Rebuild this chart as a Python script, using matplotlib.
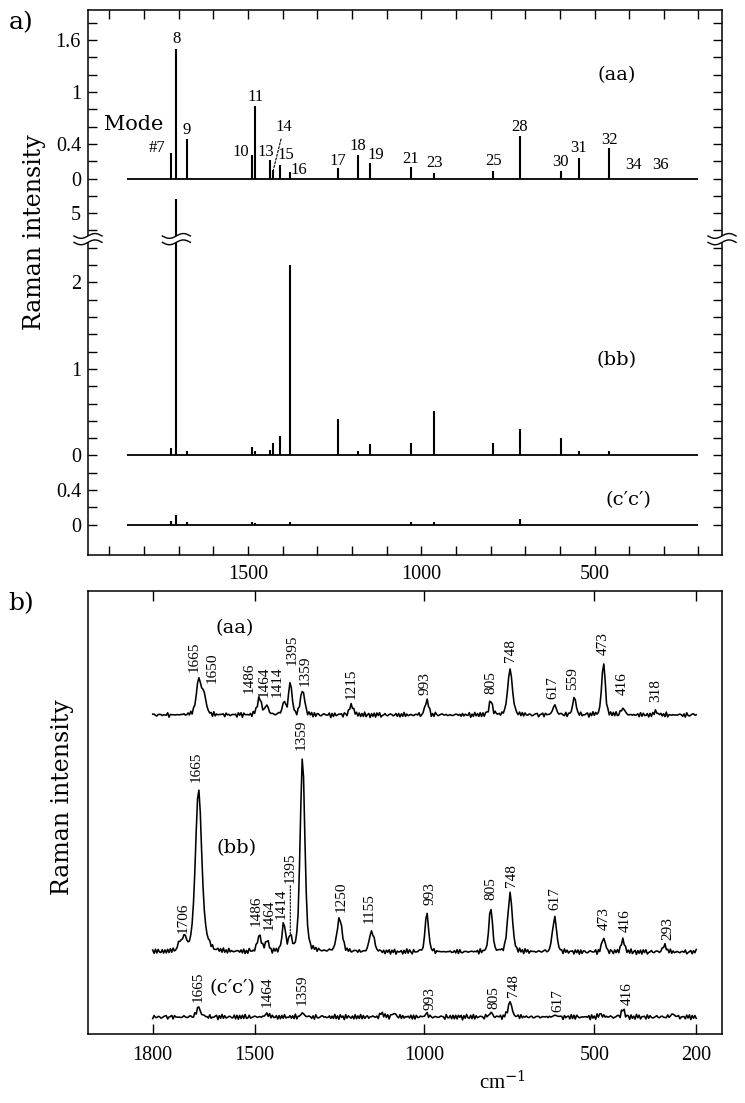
import numpy as np
import matplotlib
matplotlib.use("Agg")
import matplotlib.pyplot as plt
from matplotlib import transforms

plt.rcParams['font.family'] = ['Liberation Serif', 'DejaVu Serif']
plt.rcParams['mathtext.fontset'] = 'dejavuserif'

# ------------------------------------------------------------------
# Panel a: calculated Raman intensities of the normal modes
# ------------------------------------------------------------------
mode_numbers = [7, 8, 9, 10, 11, 13, 14, 15, 16, 17, 18, 19, 21, 23, 25, 28, 30, 31, 32, 34, 36]
mode_freqs = [1721, 1707, 1676, 1489, 1479, 1436, 1427, 1409, 1379, 1240, 1184, 1149,
              1030, 962, 792, 716, 598, 545, 458, 388, 310]
int_aa = [0.30, 1.50, 0.46, 0.27, 0.84, 0.21, 0.10, 0.16, 0.08, 0.12, 0.27, 0.18,
          0.13, 0.07, 0.09, 0.49, 0.09, 0.24, 0.35, 0.0, 0.0]
int_bb = [0.085, 5.16, 0.05, 0.10, 0.05, 0.06, 0.15, 0.23, 2.20, 0.42, 0.05, 0.13,
          0.15, 0.51, 0.14, 0.31, 0.20, 0.05, 0.05, 0.0, 0.0]
int_cc = [0.04, 0.115, 0.035, 0.035, 0.02, 0.0, 0.0, 0.0, 0.035, 0.0, 0.0, 0.0,
          0.035, 0.035, 0.0, 0.07, 0.0, 0.0, 0.0, 0.0, 0.0]
aa_tick_vals = [0, 0.4, 1, 1.6]
bb_tick_vals = [0, 1, 2, 5]
cc_tick_vals = [0, 0.4]
top_xticks = list(range(1900, 199, -100))
labeled_xticks_a = [1500, 1000, 500]

# ------------------------------------------------------------------
# Panel b: observed spectra (peak positions / heights / widths read off)
# ------------------------------------------------------------------
aa_pos = [1665, 1650, 1486, 1464, 1414, 1395, 1359, 1215, 993, 805, 748, 617, 559, 473, 416, 318]
aa_h = [34, 20, 16, 9, 12, 32, 25, 10, 15, 14, 46, 9, 17, 53, 7, 3]
aa_fwhm = [16, 16, 16, 12, 12, 12, 14, 14, 12, 12, 16, 14, 12, 12, 12, 14]

bb_pos = [1720, 1706, 1665, 1640, 1486, 1464, 1414, 1395, 1359, 1250, 1155, 993, 805, 748, 617, 473, 416, 293]
bb_h = [9, 14, 162, 6, 16, 11, 28, 14, 195, 33, 21, 39, 45, 58, 35, 14, 12, 7]
bb_fwhm = [12, 12, 22, 20, 14, 12, 12, 10, 16, 18, 16, 12, 12, 16, 14, 12, 12, 12]

cc_pos = [1665, 1464, 1359, 1125, 1090, 993, 805, 748, 617, 480, 416, 270]
cc_h = [10, 3, 4, 4, 4, 3, 4, 15, 2, 3, 7, 3]
cc_fwhm = [14, 14, 12, 12, 12, 12, 12, 14, 12, 12, 12, 12]

# fixed jitter tables (hand-typed) used for the noisy baseline of the traces
jitter_a = [0.8, -1.2, 1.5, -0.4, 1.0, -1.4, 0.3, 1.3, -0.9, 0.5, -1.5, 1.2, -0.3, 0.7,
            -1.0, 1.4, -0.6, 0.4, -1.3, 0.9, 0.0, -0.8, 1.5, -1.2, 0.5, -0.4, 1.2, -1.4,
            0.8, -0.5, 1.3, -1.0, 0.3, -0.6, 1.0, -1.3, 0.4]
jitter_b = [-0.6, 1.0, -0.3, 1.3, -1.2, 0.4, -0.8, 0.9, -1.3, 0.6, 0.1, -1.0, 1.2, -0.4,
            0.8, -1.4, 0.5, -0.1, 1.0, -0.9, 0.3, -1.2, 1.3, -0.5, 0.6, -0.8, 0.1, 0.9, -1.0]

aa_lab = ['1665', '1650', '1486', '1464', '1414', '1395', '1359', '1215', '993', '805',
          '748', '617', '559', '473', '416', '318']
aa_lab_y = [43, 32, 22, 18, 18, 50, 29, 16, 20, 21, 53, 16, 25, 60, 20, 13]
bb_lab = ['1706', '1665', '1486', '1464', '1414', '1395', '1359', '1250', '1155', '993',
          '805', '748', '617', '473', '416', '293']
bb_lab_y = [19, 170, 26, 22, 33, 69, 202, 40, 29, 47, 52, 65, 42, 22, 20, 12]
cc_lab = ['1665', '1464', '1359', '993', '805', '748', '617', '416']
cc_lab_y = [15, 10, 12, 7, 8, 20, 5, 12]
xticks_b = [1800, 1500, 1000, 500, 200]

# ------------------------------------------------------------------
W, H = 745, 1103
fig = plt.figure(figsize=(W / 100, H / 100), dpi=100)
WORD = 'DejaVu Serif'


def rect(l, t, r, b):
    return [l / W, 1 - b / H, (r - l) / W, (b - t) / H]


def ftext(x, y, s, **kw):
    kw.setdefault('ha', 'center')
    kw.setdefault('va', 'center')
    fig.text(x / W, 1 - y / H, s, **kw)


# ======================= panel a =======================
OFF_AA, OFF_BB, OFF_CC = 4.0, 0.8, 0.0
BREAK_V, BREAK_SHIFT = 2.5, 2.2


def bb_u(v):
    v = np.asarray(v, dtype=float)
    return OFF_BB + np.where(v > BREAK_V, v - BREAK_SHIFT, v)


axA = fig.add_axes(rect(88, 10, 722, 555))
axA.set_xlim(1962, 132)
axA.set_ylim(-0.35, 5.948)
for s in axA.spines.values():
    s.set_linewidth(1.1)

axA.hlines([OFF_AA, OFF_BB, OFF_CC], 1850, 200, color='k', lw=1.3)
f = np.array(mode_freqs, float)
for vals, base, mapper in [(int_aa, OFF_AA, None), (int_bb, OFF_BB, bb_u), (int_cc, OFF_CC, None)]:
    v = np.array(vals, float)
    m = v > 0
    tops = mapper(v[m]) if mapper else base + v[m]
    axA.vlines(f[m], base, tops, color='k', lw=1.5)

# x ticks
axA.set_xticks(top_xticks)
axA.set_xticklabels([str(t) if t in labeled_xticks_a else '' for t in top_xticks])
# y ticks
yt = np.round(np.arange(0, 5.81, 0.2), 2)
labmap = {}
for v in aa_tick_vals:
    labmap[round(OFF_AA + v, 2)] = f'{v:g}'
for v in bb_tick_vals:
    labmap[round(float(bb_u(v)), 2)] = f'{v:g}'
for v in cc_tick_vals:
    labmap[round(OFF_CC + v, 2)] = f'{v:g}'
axA.set_yticks(yt)
axA.set_yticklabels([labmap.get(round(t, 2), '') for t in yt])
axA.tick_params(axis='both', direction='in', top=True, right=True, length=6.5,
                width=1.0, labelsize=14.5, pad=5)
axA.tick_params(axis='x', pad=7)

# mode labels
mode_lab_dx = [-14, 0, 0, -10.7, 0, -4.7, 10.7, 6.7, 9.3, 0, 0, 6, 0, 0, 0, 0, 0, 0, 0, 0, 0]
mode_lab_dy = [4.7, 10, 9, 3.7, 9, 8, 43, 9.3, 2, 7.3, 9.7, 8.3, 8.7, 10, 9.3, 9, 8.3, 9.7, 8.3, 14, 14]
for n, fr, v, dx, dy in zip(mode_numbers, mode_freqs, int_aa, mode_lab_dx, mode_lab_dy):
    txt = '#7' if n == 7 else str(n)
    kw = {}
    if n == 14:
        kw['arrowprops'] = dict(arrowstyle='-', ls=(0, (2, 1.5)), lw=0.8, color='k',
                                shrinkA=1, shrinkB=0)
    axA.annotate(txt, xy=(fr, OFF_AA + v), xytext=(dx, dy), textcoords='offset pixels',
                 ha='center', va='center', fontsize=12, **kw)

ftext(134, 125, 'Mode', fontsize=15, family=WORD)
ftext(617, 75, '(aa)', fontsize=14, family=WORD)
ftext(617, 360, '(bb)', fontsize=14, family=WORD)
ftext(628, 500, '(c\u2032c\u2032)', fontsize=14, family=WORD)


def break_mark(ax, x, y, base_tr, half_w=14, gap=3.2, amp=2.4):
    t = np.linspace(-1, 1, 41)
    xs = t * half_w
    ys = amp * np.sin(np.pi * t)
    tr = transforms.IdentityTransform() + transforms.ScaledTranslation(x, y, base_tr)
    px = np.concatenate([xs, xs[::-1]])
    py = np.concatenate([ys + gap, (ys - gap)[::-1]])
    ax.fill(px, py, color='white', transform=tr, clip_on=False, zorder=5, lw=0)
    ax.plot(xs, ys + gap, color='k', lw=1.0, transform=tr, clip_on=False, zorder=6)
    ax.plot(xs, ys - gap, color='k', lw=1.0, transform=tr, clip_on=False, zorder=6)


u_break = OFF_BB + BREAK_V
blend = transforms.blended_transform_factory(axA.transAxes, axA.transData)
break_mark(axA, 0, u_break, blend)
break_mark(axA, 1, u_break, blend)
break_mark(axA, mode_freqs[mode_numbers.index(8)], u_break, axA.transData)

ftext(21, 23, 'a)', fontsize=18, family=WORD)
ftext(35, 232, 'Raman intensity', fontsize=17, family=WORD, rotation=90)

# ======================= panel b =======================
OFFB_AA, OFFB_BB, OFFB_CC = 302, 65, 0
axB = fig.add_axes(rect(87.5, 591, 721.7, 1034))
axB.set_xlim(1992, 125)
axB.set_ylim(-17, 426)
for s in axB.spines.values():
    s.set_linewidth(1.1)

wn = np.arange(200, 1800.1, 4.0)


def spectrum(pos, h, fw, k):
    y = np.zeros_like(wn)
    for p, a, w in zip(pos, h, fw):
        g = np.exp(-4 * np.log(2) * ((wn - p) / w) ** 2)
        lo = 1 / (1 + 4 * ((wn - p) / w) ** 2)
        y += a * (0.65 * g + 0.35 * lo)
    idx = np.arange(len(wn))
    ja = np.array(jitter_a)[(idx + k) % len(jitter_a)]
    jb = np.array(jitter_b)[(idx + 2 * k) % len(jitter_b)]
    return y + ja + jb


for pos, h, fw, off, k in [(aa_pos, aa_h, aa_fwhm, OFFB_AA, 0),
                            (bb_pos, bb_h, bb_fwhm, OFFB_BB, 11),
                            (cc_pos, cc_h, cc_fwhm, OFFB_CC, 23)]:
    axB.plot(wn, spectrum(pos, h, fw, k) + off, color='k', lw=1.15)

aa_dx = [-4.6, 8.3, -10.5, -2.5, -6.6, 1.4, 2.4, 0, -2, 0, 0.5, -2, -1.4, -0.4, -0.3, -0.3]
bb_dx = [-1, -2, -3, 2.5, -3, 0, -1, 2, -3, 3, 0, 1.5, 0, 1, 2, 3.5]
cc_dx = [0, 0, 0, 3, 3, 3, 3, 4]
for labs, ly, dxs, off in [(aa_lab, aa_lab_y, aa_dx, OFFB_AA),
                           (bb_lab, bb_lab_y, bb_dx, OFFB_BB),
                           (cc_lab, cc_lab_y, cc_dx, OFFB_CC)]:
    for s, yv, dx in zip(labs, ly, dxs):
        fr = float(s)
        if off == OFFB_BB and s == '1395':
            axB.annotate(s, xy=(fr, off + 17), xytext=(fr, off + yv),
                         textcoords='data', rotation=90, ha='center', va='bottom',
                         fontsize=11,
                         arrowprops=dict(arrowstyle='-', ls=(0, (1.5, 1.5)), lw=0.8,
                                         color='k', shrinkA=0, shrinkB=0))
            continue
        axB.annotate(s, xy=(fr, off + yv), xytext=(dx, 0), textcoords='offset pixels',
                     rotation=90, ha='center', va='bottom', fontsize=11)

ftext(235, 628, '(aa)', fontsize=14, family=WORD)
ftext(237, 848, '(bb)', fontsize=14, family=WORD)
ftext(232, 988, '(c\u2032c\u2032)', fontsize=14, family=WORD)

axB.set_xticks(xticks_b)
axB.set_xticklabels([str(t) for t in xticks_b])
axB.set_yticks([])
axB.tick_params(axis='x', direction='in', top=True, length=7, width=1.0,
                labelsize=14.5, pad=9)

ftext(21, 604, 'b)', fontsize=18, family=WORD)
ftext(63, 797, 'Raman intensity', fontsize=17, family=WORD, rotation=90)
ftext(503, 1083, 'cm$^{-1}$', fontsize=15)

fig.savefig('out.png', dpi=100)
